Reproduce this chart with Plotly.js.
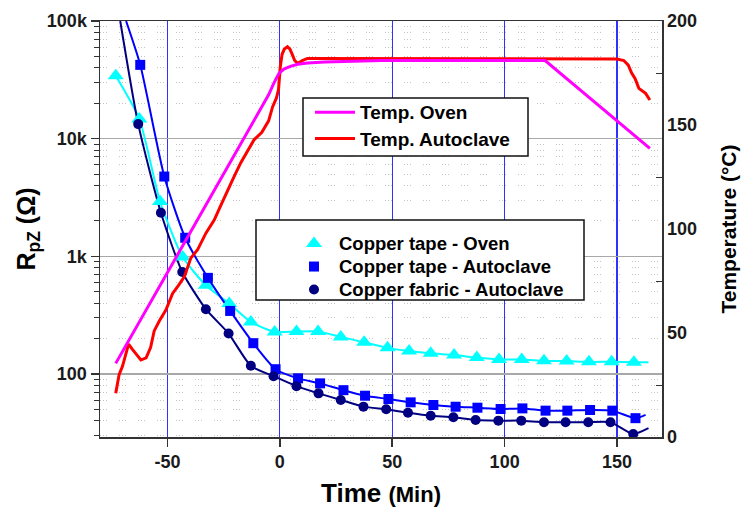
<!DOCTYPE html>
<html>
<head>
<meta charset="utf-8">
<script src="https://cdn.plot.ly/plotly-3.0.1.min.js"></script>
<style>html,body{margin:0;padding:0;background:#fff;}#chart{width:745px;height:513px;}</style>
</head>
<body>
<div id="chart"></div>
<script>
// ---- Resistance data (Ohm) vs time (min) ----
const tapeOvenT = [-73, -62.5, -53.3, -43.2, -32.9, -22.5, -12.9, -2.3, 7.4, 17.0, 27.1, 37.5, 47.9, 57.5, 67.1, 77.5, 87.6, 97.5, 107.6, 117.5, 127.6, 137.5, 147.6, 157.5];
const tapeOvenR = [34200, 14700, 2930, 986, 568, 397, 277, 228, 230, 230, 207, 186, 167, 157, 150, 145, 138, 133, 133, 130, 129, 127, 127, 126];
const tapeOvenLineEndT = [164];
const tapeOvenLineEndR = [126];

const tapeAutoT = [-62.1, -51.4, -42.1, -32.0, -22.1, -11.8, -1.9, 8.1, 17.9, 28.3, 37.9, 48.3, 58.2, 68.3, 78.2, 87.9, 98.2, 107.9, 118.2, 127.9, 138.0, 147.9, 158.2];
const tapeAutoR = [42400, 4770, 1440, 657, 344, 183, 110, 92, 83.4, 73, 65.5, 61.4, 57.5, 54.6, 52.8, 51.8, 50.5, 51.1, 48.9, 48.9, 49.5, 48.9, 42.2];
const tapeAutoLineStartT = [-68.4];
const tapeAutoLineStartR = [100000];
const tapeAutoLineEndT = [162.7];
const tapeAutoLineEndR = [45];

const fabricAutoT = [-63.0, -52.9, -43.4, -32.9, -22.8, -12.9, -2.8, 7.4, 17.2, 27.1, 37.2, 47.3, 57.0, 67.1, 77.2, 87.1, 97.2, 107.4, 117.5, 127.1, 137.2, 147.1, 157.2];
const fabricAutoR = [13300, 2350, 736, 356, 221, 117.6, 96, 79, 68.6, 60.3, 52.9, 50.2, 47.0, 44.3, 43.0, 40.7, 40.2, 40.2, 39.0, 39.0, 39.0, 39.0, 31];
const fabricAutoLineStartT = [-71];
const fabricAutoLineStartR = [100000];
const fabricAutoLineEndT = [164];
const fabricAutoLineEndR = [34.7];

// ---- Temperature data (deg C) vs time (min) ----
const ovenT = [-73, -60, -40, -20, -8, -5, -2.5, -0.3, 2, 5, 8, 12.3, 20, 30, 45, 80, 118, 164.6];
const ovenTemp = [35.4, 60, 98.5, 136, 159, 164.5, 170.5, 175, 177, 178.3, 179.2, 179.8, 180.3, 180.6, 181, 181, 181, 138.8];

const autoT = [-73, -71.5, -70, -68.5, -67.3, -65.5, -63.5, -61.8, -59.5, -57.5, -55.9, -53.5, -50.7, -47.7, -45, -42.5, -39.6, -36.6, -32.9, -29.2, -26, -23.2, -20, -17.3, -14, -11.4, -8, -5, -3.2, -1.5, -0.6, 0.2, 1, 2, 3.4, 4.5, 5.6, 6.6, 7.9, 10, 12.3, 15, 18.2, 40, 70, 100, 130, 150, 153, 155, 156.5, 158, 159.7, 161.2, 162.7, 164.6];
const autoTemp = [21, 30, 34, 40, 44.7, 42, 39, 37, 38, 43, 51, 56, 61, 69, 73, 77, 86, 90, 98, 104.3, 112, 118.8, 126, 132, 138, 143, 146.5, 152, 158.8, 163, 167, 178, 184, 186.5, 187.6, 186.5, 183.7, 181, 179.6, 181, 182, 182, 181.7, 181.7, 181.7, 181.7, 181.7, 181.7, 181, 178.8, 175, 172.4, 167.6, 166.5, 165.2, 162];

// ---- Axis ticks ----
const xTicks = [-50, 0, 50, 100, 150];
const xTickText = ['-50', '0', '50', '100', '150'];
const rTickVals = [100, 1000, 10000, 100000];
const rTickText = ['100', '1k', '10k', '100k'];
const tempTicks = [0, 50, 100, 150, 200];
const tempMinorTicks = [25, 75, 125, 175];
const rMinorTicks = [];
for (let k = 1; k <= 4; k++) for (let m = 2; m <= 9; m++) { const v = m * Math.pow(10, k); if (v > 29.2) rMinorTicks.push(v); }

const FONT = '"Liberation Sans", Arial, sans-serif';
const C_CYAN = '#00ffff', C_BLUE = '#0000ff', C_NAVY = '#000080', C_MAG = '#ff00ff', C_RED = '#ff0000';

const lineStyle = (c) => ({color: c, width: 2, shape: 'spline', smoothing: 0.6});
const big = (s, sz) => '<span style="font-size:' + sz + 'px">' + s + '</span>';

const traces = [
  // smooth lines (no legend)
  {x: tapeOvenT.concat(tapeOvenLineEndT), y: tapeOvenR.concat(tapeOvenLineEndR), mode: 'lines', line: lineStyle(C_CYAN), showlegend: false, yaxis: 'y'},
  {x: tapeAutoLineStartT.concat(tapeAutoT, tapeAutoLineEndT), y: tapeAutoLineStartR.concat(tapeAutoR, tapeAutoLineEndR), mode: 'lines', line: lineStyle(C_BLUE), showlegend: false, yaxis: 'y'},
  {x: fabricAutoLineStartT.concat(fabricAutoT, fabricAutoLineEndT), y: fabricAutoLineStartR.concat(fabricAutoR, fabricAutoLineEndR), mode: 'lines', line: lineStyle(C_NAVY), showlegend: false, yaxis: 'y'},
  // markers (legend 2)
  {x: tapeOvenT, y: tapeOvenR, mode: 'markers', name: big('Copper tape - Oven', 18.5), marker: {symbol: 'triangle-up', size: 14, color: C_CYAN}, legend: 'legend2', yaxis: 'y'},
  {x: tapeAutoT, y: tapeAutoR, mode: 'markers', name: big('Copper tape - Autoclave', 18.5), marker: {symbol: 'square', size: 10, color: C_BLUE}, legend: 'legend2', yaxis: 'y'},
  {x: fabricAutoT, y: fabricAutoR, mode: 'markers', name: big('Copper fabric - Autoclave', 18.5), marker: {symbol: 'circle', size: 10, color: C_NAVY}, legend: 'legend2', yaxis: 'y'},
  // temperatures (legend 1)
  {x: autoT, y: autoTemp, mode: 'lines', name: big('Temp. Autoclave', 19), line: {color: C_RED, width: 3}, legend: 'legend', yaxis: 'y2'},
  {x: ovenT, y: ovenTemp, mode: 'lines', name: big('Temp. Oven', 19), line: {color: C_MAG, width: 3}, legend: 'legend', yaxis: 'y2'}
];

const tickFont = {family: FONT, size: 18, color: '#1a1a1a', weight: 'bold'};
const L = 100, R = 83, T = 21, B = 76, W = 745, H = 513;
const pw = W - L - R, ph = H - T - B;
const px = (v) => (v - L) / pw;
const py = (v) => (H - B - v) / ph;

const layout = {
  width: W, height: H,
  margin: {l: L, r: R, t: T, b: B},
  paper_bgcolor: '#ffffff', plot_bgcolor: '#ffffff',
  font: {family: FONT, color: '#000'},
  hovermode: false,
  xaxis: {
    range: [-80, 170], tickmode: 'array', tickvals: xTicks, ticktext: xTickText,
    ticks: 'outside', ticklen: 8, tickwidth: 1.5, tickcolor: '#333',
    showgrid: true, gridcolor: '#3030ff', gridwidth: 1.2,
    zeroline: false, showline: true, linecolor: '#333', linewidth: 1.5, mirror: true,
    tickfont: tickFont,
    title: {text: 'Time ' + big('(Min)', 22), font: {family: FONT, size: 26, color: '#000', weight: 'bold'}, standoff: 12}
  },
  yaxis: {
    type: 'log', range: [Math.log10(29.2), 5],
    tickmode: 'array', tickvals: rTickVals, ticktext: rTickText,
    ticks: 'outside', ticklen: 8, tickwidth: 1.5, tickcolor: '#333',
    showgrid: true, gridcolor: '#a8a8a8', gridwidth: 1.5,
    minor: {tickmode: 'array', tickvals: rMinorTicks, ticks: 'outside', ticklen: 5, tickwidth: 1, tickcolor: '#333',
            showgrid: true, gridcolor: '#c4c4c4', gridwidth: 1, griddash: '1px,2px,1px,2px,1px,12px'},
    zeroline: false, showline: true, linecolor: '#333', linewidth: 1.5,
    tickfont: tickFont,
    title: {text: 'R<sub>pZ</sub> (Ω)', font: {family: FONT, size: 25, color: '#000', weight: 'bold'}, standoff: 4}
  },
  yaxis2: {
    overlaying: 'y', side: 'right', range: [0, 200],
    tickmode: 'array', tickvals: tempTicks, ticks: '',
    minor: {tickmode: 'array', tickvals: tempMinorTicks, ticks: 'inside', ticklen: 6, tickwidth: 1, tickcolor: '#333', showgrid: false},
    showgrid: false, zeroline: false, showline: true, linecolor: '#333', linewidth: 1.5,
    tickfont: tickFont,
    title: {text: 'Temperature (°C)', font: {family: FONT, size: 21, color: '#000', weight: 'bold'}, standoff: 25}
  },
  shapes: [
    {type: 'rect', xref: 'paper', yref: 'paper', x0: px(303), x1: px(528), y0: py(156), y1: py(98), line: {color: '#111', width: 1.5}, fillcolor: '#fff', layer: 'above'},
    {type: 'rect', xref: 'paper', yref: 'paper', x0: px(256), x1: px(584), y0: py(300), y1: py(220), line: {color: '#111', width: 1.5}, fillcolor: '#fff', layer: 'above'}
  ],
  legend: {
    x: px(310), y: py(94), xanchor: 'left', yanchor: 'top',
    bgcolor: 'rgba(0,0,0,0)', borderwidth: 0, itemwidth: 40, traceorder: 'reversed',
    font: {family: FONT, size: 18, color: '#000', weight: 'bold'}
  },
  legend2: {
    x: px(289), y: py(227), xanchor: 'left', yanchor: 'top',
    bgcolor: 'rgba(0,0,0,0)', borderwidth: 0, itemwidth: 40, traceorder: 'normal',
    font: {family: FONT, size: 15.4, color: '#000', weight: 'bold'}
  }
};

Plotly.newPlot('chart', traces, layout, {displayModeBar: false, staticPlot: true});
</script>
</body>
</html>
